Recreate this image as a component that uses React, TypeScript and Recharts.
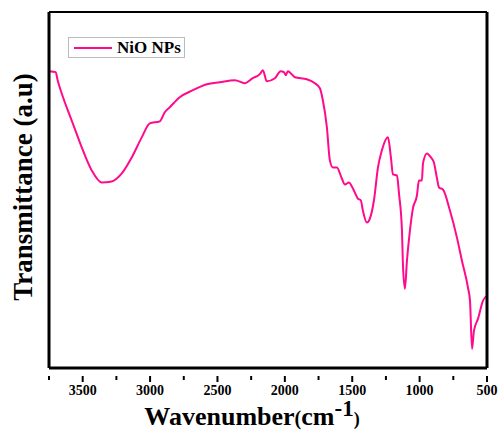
import React from 'react';
import { LineChart, Line, XAxis, YAxis } from 'recharts';

// FTIR spectrum of NiO nanoparticles
const wavenumbers = [
  3745, 3700, 3686, 3656, 3582, 3507, 3433, 3359, 3285, 3210, 3136, 3062, 3002, 2928,
  2891, 2854, 2780, 2683, 2579, 2483, 2371, 2297, 2238, 2186, 2163, 2134, 2074, 2030,
  2007, 1993, 1978, 1926, 1837, 1777, 1740, 1718, 1688, 1666, 1644, 1614, 1577, 1554,
  1525, 1495, 1458, 1436, 1421, 1391, 1369, 1339, 1309, 1280, 1235, 1213, 1198, 1168,
  1153, 1131, 1124, 1109, 1094, 1072, 1050, 1020, 1005, 983, 975, 946, 916, 894, 871,
  856, 827, 775, 723, 686, 641, 626, 611, 597, 567, 530, 500,
];
const transmittance = [
  296, 295, 287, 274, 247, 220, 197, 185, 186, 194, 210, 230, 244, 246,
  255, 260, 270, 277, 283, 285, 287, 284, 289, 293, 297, 286, 289, 296,
  295, 292, 296, 290, 288, 284, 279, 267, 240, 207, 200, 200, 189, 183,
  185, 179, 169, 167, 157, 145, 149, 167, 200, 217, 230, 210, 193, 192,
  174, 137, 104, 79, 107, 137, 159, 172, 187, 187, 204, 214, 210, 205, 189,
  180, 178, 157, 130, 107, 80, 67, 19, 37, 49, 67, 72,
];
const xTicks = [3750, 3500, 3250, 3000, 2750, 2500, 2250, 2000, 1750, 1500, 1250, 1000, 750, 500];

const data = wavenumbers.map((w, i) => ({ w, t: transmittance[i] }));

const serif = '"Liberation Serif", "Times New Roman", serif';
const pink = '#ff0a8c';

const XTick = (props: any) => {
  const { x, y, payload } = props;
  const major = payload.value % 500 === 0;
  return (
    <g>
      <line x1={x} x2={x} y1={y} y2={y + (major ? 6 : 4)} stroke="#000" strokeWidth={2} />
      {major && (
        <text x={x} y={y + 19} textAnchor="middle" fontFamily={serif} fontWeight="bold" fontSize={14} fill="#000">
          {payload.value}
        </text>
      )}
    </g>
  );
};

export default function App() {
  return (
    <div style={{ position: 'absolute', left: 0, top: 0, width: 500, height: 432, background: '#fff' }}>
      <LineChart width={500} height={432} data={data} margin={{ top: 0, right: 0, left: 0, bottom: 0 }}>
        <XAxis
          dataKey="w"
          type="number"
          domain={[500, 3750]}
          reversed
          ticks={xTicks}
          interval={0}
          height={64}
          tickLine={false}
          tick={<XTick />}
          axisLine={{ stroke: '#000', strokeWidth: 3 }}
        />
        <XAxis
          xAxisId="top"
          orientation="top"
          type="number"
          domain={[500, 3750]}
          height={12}
          tick={false}
          tickLine={false}
          axisLine={{ stroke: '#000', strokeWidth: 2 }}
        />
        <YAxis
          type="number"
          domain={[0, 355]}
          width={49}
          tick={false}
          tickLine={false}
          axisLine={{ stroke: '#000', strokeWidth: 3 }}
        />
        <YAxis
          yAxisId="right"
          orientation="right"
          type="number"
          domain={[0, 355]}
          width={13}
          tick={false}
          tickLine={false}
          axisLine={{ stroke: '#000', strokeWidth: 3 }}
        />
        <Line
          dataKey="t"
          type="monotoneX"
          stroke={pink}
          strokeWidth={2}
          dot={false}
          isAnimationActive={false}
        />
      </LineChart>

      {/* legend */}
      <div
        style={{
          position: 'absolute', left: 68, top: 37, width: 117, height: 21,
          border: '1px solid #bbb', boxSizing: 'border-box', background: '#fff',
          display: 'flex', alignItems: 'center',
        }}
      >
        <div style={{ width: 38, height: 2, background: pink, marginLeft: 5 }} />
        <span style={{ fontFamily: serif, fontWeight: 'bold', fontSize: 17, marginLeft: 5, color: '#000' }}>NiO NPs</span>
      </div>

      {/* y axis title */}
      <div
        style={{
          position: 'absolute', left: 23, top: 187, transform: 'translate(-50%, -50%) rotate(-90deg)',
          whiteSpace: 'nowrap', fontFamily: serif, fontWeight: 'bold', fontSize: 27, color: '#000',
        }}
      >
        Transmittance (a.u)
      </div>

      {/* x axis title */}
      <div
        style={{
          position: 'absolute', left: 252, top: 418, transform: 'translate(-50%, -50%)',
          whiteSpace: 'nowrap', fontFamily: serif, fontWeight: 'bold', fontSize: 26, color: '#000',
          lineHeight: '26px',
        }}
      >
        Wavenumber<span style={{ fontSize: 20 }}>(</span>cm
        <sup style={{ fontSize: 23, verticalAlign: 'baseline', position: 'relative', top: -9, lineHeight: 0 }}>-1</sup>
        <span style={{ fontSize: 18 }}>)</span>
      </div>
    </div>
  );
}
